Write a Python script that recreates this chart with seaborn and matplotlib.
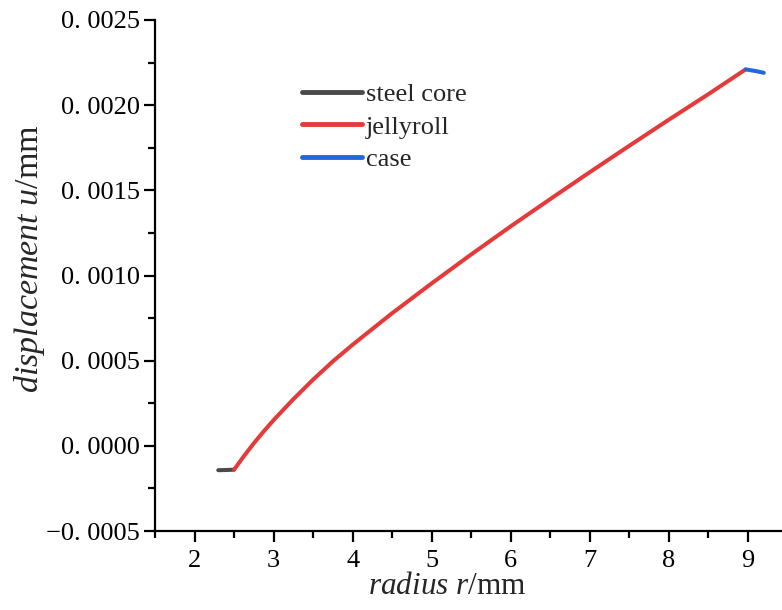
import numpy as np
import pandas as pd
import matplotlib
matplotlib.use("Agg")
import matplotlib.pyplot as plt
import seaborn as sns

# Radial displacement of each component (radius in mm, displacement in mm)
core_r = [2.30, 2.40, 2.50]
core_u = [-0.000143, -0.000142, -0.000140]

roll_r = [2.50, 2.625, 2.75, 2.875, 3.00, 3.25, 3.50, 3.75, 4.00, 4.50, 5.00, 5.50,
          6.00, 6.50, 7.00, 7.50, 8.00, 8.50, 8.97]
roll_u = [-0.000140, -0.000060, 0.000015, 0.000085, 0.000151, 0.000274, 0.000389,
          0.000496, 0.000594, 0.000779, 0.000954, 0.001124, 0.001289, 0.001449,
          0.001607, 0.001762, 0.001915, 0.002065, 0.002210]

case_r = [8.97, 9.10, 9.20]
case_u = [0.002210, 0.002200, 0.002190]

series_names = ["steel core", "jellyroll", "case"]
series_colors = ["#4a4a4a", "#e53a3a", "#2168dc"]

x_ticks = [2, 3, 4, 5, 6, 7, 8, 9]
y_ticks = [-0.0005, 0.0000, 0.0005, 0.0010, 0.0015, 0.0020, 0.0025]
y_tick_labels = ["\u22120. 0005", "0. 0000", "0. 0005", "0. 0010", "0. 0015", "0. 0020", "0. 0025"]

df = pd.concat([
    pd.DataFrame({"r": core_r, "u": core_u, "part": series_names[0]}),
    pd.DataFrame({"r": roll_r, "u": roll_u, "part": series_names[1]}),
    pd.DataFrame({"r": case_r, "u": case_u, "part": series_names[2]}),
], ignore_index=True)

sns.set_theme(style="ticks")
plt.rcParams["font.family"] = ["Liberation Serif", "DejaVu Serif"]
plt.rcParams["mathtext.fontset"] = "custom"
plt.rcParams["mathtext.rm"] = "Liberation Serif"
plt.rcParams["mathtext.it"] = "Liberation Serif:italic"

fig = plt.figure(figsize=(7.82, 6.10), dpi=100)
ax = fig.add_axes([155 / 782, 1 - 531 / 610, 1 - 155 / 782, (531 - 20) / 610])

sns.lineplot(data=df, x="r", y="u", hue="part", hue_order=series_names,
             palette=dict(zip(series_names, series_colors)), sort=False,
             linewidth=2.9, ax=ax, estimator=None)

ax.set_xlim(1.5, 9.43)
ax.set_ylim(-0.0005, 0.0025)
ax.set_xticks(x_ticks)
ax.set_xticklabels([str(t) for t in x_ticks])
ax.set_yticks(y_ticks)
ax.set_yticklabels(y_tick_labels)
ax.set_xticks(np.arange(1.5, 9.5, 1.0), minor=True)
ax.set_yticks(np.arange(-0.00025, 0.0025, 0.0005), minor=True)

for side in ("top", "right"):
    ax.spines[side].set_visible(False)
for side in ("left", "bottom"):
    ax.spines[side].set_linewidth(1.6)
    ax.spines[side].set_color("black")

ax.tick_params(which="major", direction="out", length=8, width=1.6, colors="black",
               labelsize=19, pad=6)
ax.tick_params(which="minor", direction="out", length=5, width=1.6, colors="black")
ax.tick_params(axis="y", which="major", pad=3)

ax.set_xlabel(r"$\it{radius\ r}$/mm", fontsize=22.5)
ax.set_ylabel(r"$\it{displacement\ u}$/mm", fontsize=24.5)
ax.xaxis.set_label_coords(0.466, -0.080)
ax.yaxis.set_label_coords(-0.172, 0.532)

leg = ax.legend(loc="upper left", bbox_to_anchor=((302 - 155) / 627, 1 - (83 - 20) / 511),
                frameon=False, fontsize=19, handlelength=2.27, handletextpad=0.15,
                labelspacing=0.33, borderpad=0, borderaxespad=0)
for line in leg.get_lines():
    line.set_linewidth(3.5)

fig.savefig("out.png", dpi=100)
